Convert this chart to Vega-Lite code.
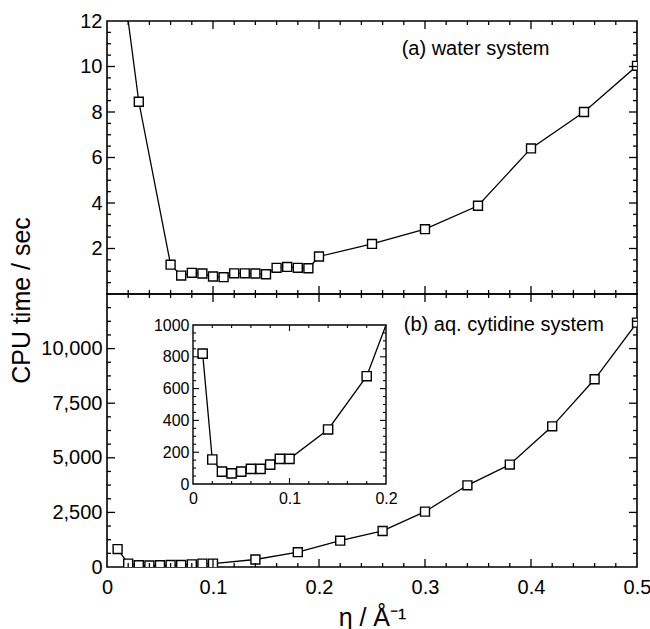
{
  "$schema": "https://vega.github.io/schema/vega-lite/v6.json",
  "padding": {"left": 8, "top": 10, "right": 0, "bottom": 0},
  "spacing": 0,
  "bounds": "flush",
  "datasets": {
    "water": [
      {"eta": 0.02, "t": 100},
      {"eta": 0.03, "t": 8.45},
      {"eta": 0.06, "t": 1.29},
      {"eta": 0.07, "t": 0.81},
      {"eta": 0.08, "t": 0.93},
      {"eta": 0.09, "t": 0.90},
      {"eta": 0.10, "t": 0.77},
      {"eta": 0.11, "t": 0.74},
      {"eta": 0.12, "t": 0.91},
      {"eta": 0.13, "t": 0.91},
      {"eta": 0.14, "t": 0.90},
      {"eta": 0.15, "t": 0.87},
      {"eta": 0.16, "t": 1.15},
      {"eta": 0.17, "t": 1.19},
      {"eta": 0.18, "t": 1.15},
      {"eta": 0.19, "t": 1.13},
      {"eta": 0.20, "t": 1.65},
      {"eta": 0.25, "t": 2.20},
      {"eta": 0.30, "t": 2.85},
      {"eta": 0.35, "t": 3.88},
      {"eta": 0.40, "t": 6.40},
      {"eta": 0.45, "t": 8.0},
      {"eta": 0.50, "t": 10.03}
    ],
    "cyt": [
      {"eta": 0.01, "t": 820},
      {"eta": 0.02, "t": 154},
      {"eta": 0.03, "t": 78},
      {"eta": 0.04, "t": 67},
      {"eta": 0.05, "t": 78},
      {"eta": 0.06, "t": 95},
      {"eta": 0.07, "t": 95},
      {"eta": 0.08, "t": 122},
      {"eta": 0.09, "t": 158},
      {"eta": 0.10, "t": 158},
      {"eta": 0.14, "t": 343},
      {"eta": 0.18, "t": 678},
      {"eta": 0.22, "t": 1205},
      {"eta": 0.26, "t": 1650},
      {"eta": 0.30, "t": 2535},
      {"eta": 0.34, "t": 3740},
      {"eta": 0.38, "t": 4690},
      {"eta": 0.42, "t": 6440},
      {"eta": 0.46, "t": 8595},
      {"eta": 0.50, "t": 11190}
    ],
    "labA": [{"eta": 0.278, "t": 10.78, "label": "(a) water system"}],
    "labB": [{"eta": 0.28, "t": 11070, "label": "(b) aq. cytidine system"}],
    "one": [{"k": 1}],
    "x5maj": [{"eta": 0.1}, {"eta": 0.2}, {"eta": 0.3}, {"eta": 0.4}],
    "x5min": [{"eta": 0.02}, {"eta": 0.04}, {"eta": 0.06}, {"eta": 0.08}, {"eta": 0.12}, {"eta": 0.14}, {"eta": 0.16}, {"eta": 0.18}, {"eta": 0.22}, {"eta": 0.24}, {"eta": 0.26}, {"eta": 0.28}, {"eta": 0.32}, {"eta": 0.34}, {"eta": 0.36}, {"eta": 0.38}, {"eta": 0.42}, {"eta": 0.44}, {"eta": 0.46}, {"eta": 0.48}],
    "y12maj": [{"t": 2}, {"t": 4}, {"t": 6}, {"t": 8}, {"t": 10}],
    "y12min": [{"t": 0.5}, {"t": 1}, {"t": 1.5}, {"t": 2.5}, {"t": 3}, {"t": 3.5}, {"t": 4.5}, {"t": 5}, {"t": 5.5}, {"t": 6.5}, {"t": 7}, {"t": 7.5}, {"t": 8.5}, {"t": 9}, {"t": 9.5}, {"t": 10.5}, {"t": 11}, {"t": 11.5}],
    "y125maj": [{"t": 2500}, {"t": 5000}, {"t": 7500}, {"t": 10000}],
    "y125min": [{"t": 625}, {"t": 1250}, {"t": 1875}, {"t": 3125}, {"t": 3750}, {"t": 4375}, {"t": 5625}, {"t": 6250}, {"t": 6875}, {"t": 8125}, {"t": 8750}, {"t": 9375}, {"t": 10625}, {"t": 11250}, {"t": 11875}],
    "x2maj": [{"eta": 0.1}],
    "x2min": [{"eta": 0.02}, {"eta": 0.04}, {"eta": 0.06}, {"eta": 0.08}, {"eta": 0.12}, {"eta": 0.14}, {"eta": 0.16}, {"eta": 0.18}],
    "y1000maj": [{"t": 200}, {"t": 400}, {"t": 600}, {"t": 800}],
    "y1000min": [{"t": 50}, {"t": 100}, {"t": 150}, {"t": 250}, {"t": 300}, {"t": 350}, {"t": 450}, {"t": 500}, {"t": 550}, {"t": 650}, {"t": 700}, {"t": 750}, {"t": 850}, {"t": 900}, {"t": 950}]
  },
  "vconcat": [
    {
      "width": 530,
      "height": 273,
      "resolve": {"axis": {"x": "independent", "y": "independent"}},
      "layer": [
        {
          "data": {"name": "water"},
          "mark": {"type": "line", "color": "black", "strokeWidth": 1.3, "clip": true},
          "encoding": {
            "x": {"field": "eta", "type": "quantitative", "scale": {"domain": [0, 0.5], "nice": false}, "axis": null},
            "y": {"field": "t", "type": "quantitative", "scale": {"domain": [0, 12], "nice": false, "clamp": true},
              "axis": {"orient": "left", "offset": 0, "values": [2, 4, 6, 8, 10, 12], "ticks": false, "labelPadding": 5, "format": "~g", "title": null}}
          }
        },
        {
          "data": {"name": "water"},
          "transform": [{"filter": "datum.t <= 12"}],
          "mark": {"type": "point", "shape": "square", "size": 80, "filled": true, "fill": "white", "stroke": "black", "strokeWidth": 1.4, "opacity": 1, "clip": true},
          "encoding": {
            "x": {"field": "eta", "type": "quantitative", "scale": {"domain": [0, 0.5], "nice": false}, "axis": null},
            "y": {"field": "t", "type": "quantitative", "scale": {"domain": [0, 12], "nice": false, "clamp": true}, "axis": null}
          }
        },
        {
          "data": {"name": "labA"},
          "mark": {"type": "text", "align": "left", "baseline": "middle", "fontSize": 20, "font": "Liberation Sans", "color": "black"},
          "encoding": {
            "x": {"field": "eta", "type": "quantitative", "scale": {"domain": [0, 0.5], "nice": false}, "axis": null},
            "y": {"field": "t", "type": "quantitative", "scale": {"domain": [0, 12], "nice": false, "clamp": true}, "axis": null},
            "text": {"field": "label"}
          }
        },
        {
          "data": {"name": "x5maj"},
          "mark": {"type": "tick", "orient": "vertical", "size": 16, "thickness": 1.3, "color": "black", "opacity": 1, "clip": true},
          "encoding": {
            "x": {"field": "eta", "type": "quantitative", "scale": {"domain": [0, 0.5], "nice": false}, "axis": null},
            "y": {"datum": 0, "type": "quantitative", "scale": {"domain": [0, 12], "nice": false, "clamp": true}, "axis": null}
          }
        },
        {
          "data": {"name": "x5maj"},
          "mark": {"type": "tick", "orient": "vertical", "size": 16, "thickness": 1.3, "color": "black", "opacity": 1, "clip": true},
          "encoding": {
            "x": {"field": "eta", "type": "quantitative", "scale": {"domain": [0, 0.5], "nice": false}, "axis": null},
            "y": {"datum": 12, "type": "quantitative", "scale": {"domain": [0, 12], "nice": false, "clamp": true}, "axis": null}
          }
        },
        {
          "data": {"name": "x5min"},
          "mark": {"type": "tick", "orient": "vertical", "size": 8, "thickness": 1.3, "color": "black", "opacity": 1, "clip": true},
          "encoding": {
            "x": {"field": "eta", "type": "quantitative", "scale": {"domain": [0, 0.5], "nice": false}, "axis": null},
            "y": {"datum": 0, "type": "quantitative", "scale": {"domain": [0, 12], "nice": false, "clamp": true}, "axis": null}
          }
        },
        {
          "data": {"name": "x5min"},
          "mark": {"type": "tick", "orient": "vertical", "size": 8, "thickness": 1.3, "color": "black", "opacity": 1, "clip": true},
          "encoding": {
            "x": {"field": "eta", "type": "quantitative", "scale": {"domain": [0, 0.5], "nice": false}, "axis": null},
            "y": {"datum": 12, "type": "quantitative", "scale": {"domain": [0, 12], "nice": false, "clamp": true}, "axis": null}
          }
        },
        {
          "data": {"name": "y12maj"},
          "mark": {"type": "tick", "orient": "horizontal", "size": 16, "thickness": 1.3, "color": "black", "opacity": 1, "clip": true},
          "encoding": {
            "x": {"datum": 0, "type": "quantitative", "scale": {"domain": [0, 0.5], "nice": false}, "axis": null},
            "y": {"field": "t", "type": "quantitative", "scale": {"domain": [0, 12], "nice": false, "clamp": true}, "axis": null}
          }
        },
        {
          "data": {"name": "y12maj"},
          "mark": {"type": "tick", "orient": "horizontal", "size": 16, "thickness": 1.3, "color": "black", "opacity": 1, "clip": true},
          "encoding": {
            "x": {"datum": 0.5, "type": "quantitative", "scale": {"domain": [0, 0.5], "nice": false}, "axis": null},
            "y": {"field": "t", "type": "quantitative", "scale": {"domain": [0, 12], "nice": false, "clamp": true}, "axis": null}
          }
        },
        {
          "data": {"name": "y12min"},
          "mark": {"type": "tick", "orient": "horizontal", "size": 8, "thickness": 1.3, "color": "black", "opacity": 1, "clip": true},
          "encoding": {
            "x": {"datum": 0, "type": "quantitative", "scale": {"domain": [0, 0.5], "nice": false}, "axis": null},
            "y": {"field": "t", "type": "quantitative", "scale": {"domain": [0, 12], "nice": false, "clamp": true}, "axis": null}
          }
        },
        {
          "data": {"name": "y12min"},
          "mark": {"type": "tick", "orient": "horizontal", "size": 8, "thickness": 1.3, "color": "black", "opacity": 1, "clip": true},
          "encoding": {
            "x": {"datum": 0.5, "type": "quantitative", "scale": {"domain": [0, 0.5], "nice": false}, "axis": null},
            "y": {"field": "t", "type": "quantitative", "scale": {"domain": [0, 12], "nice": false, "clamp": true}, "axis": null}
          }
        }
      ]
    },
    {
      "width": 530,
      "height": 273,
      "resolve": {"scale": {"x": "independent", "y": "independent"}, "axis": {"x": "independent", "y": "independent"}},
      "layer": [
        {
          "resolve": {"axis": {"x": "independent", "y": "independent"}},
          "layer": [
            {
              "data": {"name": "cyt"},
              "mark": {"type": "line", "color": "black", "strokeWidth": 1.3, "clip": true},
              "encoding": {
                "x": {"field": "eta", "type": "quantitative", "scale": {"domain": [0, 0.5], "nice": false},
                  "axis": {"orient": "bottom", "offset": 0, "values": [0, 0.1, 0.2, 0.3, 0.4, 0.5], "format": "~g", "ticks": false, "labelPadding": 10, "title": "η / Å⁻¹", "titlePadding": 8}},
                "y": {"field": "t", "type": "quantitative", "scale": {"domain": [0, 12500], "nice": false},
                  "axis": {"orient": "left", "offset": 0, "values": [0, 2500, 5000, 7500, 10000], "format": ",.0f", "ticks": false, "labelPadding": 5, "title": "CPU time / sec", "titleX": -86, "titleY": 6, "titleAngle": -90, "titleAlign": "center", "titleBaseline": "middle"}}
              }
            },
            {
              "data": {"name": "cyt"},
              "mark": {"type": "point", "shape": "square", "size": 80, "filled": true, "fill": "white", "stroke": "black", "strokeWidth": 1.4, "opacity": 1, "clip": true},
              "encoding": {
                "x": {"field": "eta", "type": "quantitative", "scale": {"domain": [0, 0.5], "nice": false}, "axis": null},
                "y": {"field": "t", "type": "quantitative", "scale": {"domain": [0, 12500], "nice": false}, "axis": null}
              }
            },
            {
              "data": {"name": "labB"},
              "mark": {"type": "text", "align": "left", "baseline": "middle", "fontSize": 20, "font": "Liberation Sans", "color": "black"},
              "encoding": {
                "x": {"field": "eta", "type": "quantitative", "scale": {"domain": [0, 0.5], "nice": false}, "axis": null},
                "y": {"field": "t", "type": "quantitative", "scale": {"domain": [0, 12500], "nice": false}, "axis": null},
                "text": {"field": "label"}
              }
            },
            {
              "data": {"name": "x5maj"},
              "mark": {"type": "tick", "orient": "vertical", "size": 16, "thickness": 1.3, "color": "black", "opacity": 1, "clip": true},
              "encoding": {
                "x": {"field": "eta", "type": "quantitative", "scale": {"domain": [0, 0.5], "nice": false}, "axis": null},
                "y": {"datum": 0, "type": "quantitative", "scale": {"domain": [0, 12500], "nice": false}, "axis": null}
              }
            },
            {
              "data": {"name": "x5maj"},
              "mark": {"type": "tick", "orient": "vertical", "size": 16, "thickness": 1.3, "color": "black", "opacity": 1, "clip": true},
              "encoding": {
                "x": {"field": "eta", "type": "quantitative", "scale": {"domain": [0, 0.5], "nice": false}, "axis": null},
                "y": {"datum": 12500, "type": "quantitative", "scale": {"domain": [0, 12500], "nice": false}, "axis": null}
              }
            },
            {
              "data": {"name": "x5min"},
              "mark": {"type": "tick", "orient": "vertical", "size": 8, "thickness": 1.3, "color": "black", "opacity": 1, "clip": true},
              "encoding": {
                "x": {"field": "eta", "type": "quantitative", "scale": {"domain": [0, 0.5], "nice": false}, "axis": null},
                "y": {"datum": 0, "type": "quantitative", "scale": {"domain": [0, 12500], "nice": false}, "axis": null}
              }
            },
            {
              "data": {"name": "x5min"},
              "mark": {"type": "tick", "orient": "vertical", "size": 8, "thickness": 1.3, "color": "black", "opacity": 1, "clip": true},
              "encoding": {
                "x": {"field": "eta", "type": "quantitative", "scale": {"domain": [0, 0.5], "nice": false}, "axis": null},
                "y": {"datum": 12500, "type": "quantitative", "scale": {"domain": [0, 12500], "nice": false}, "axis": null}
              }
            },
            {
              "data": {"name": "y125maj"},
              "mark": {"type": "tick", "orient": "horizontal", "size": 16, "thickness": 1.3, "color": "black", "opacity": 1, "clip": true},
              "encoding": {
                "x": {"datum": 0, "type": "quantitative", "scale": {"domain": [0, 0.5], "nice": false}, "axis": null},
                "y": {"field": "t", "type": "quantitative", "scale": {"domain": [0, 12500], "nice": false}, "axis": null}
              }
            },
            {
              "data": {"name": "y125maj"},
              "mark": {"type": "tick", "orient": "horizontal", "size": 16, "thickness": 1.3, "color": "black", "opacity": 1, "clip": true},
              "encoding": {
                "x": {"datum": 0.5, "type": "quantitative", "scale": {"domain": [0, 0.5], "nice": false}, "axis": null},
                "y": {"field": "t", "type": "quantitative", "scale": {"domain": [0, 12500], "nice": false}, "axis": null}
              }
            },
            {
              "data": {"name": "y125min"},
              "mark": {"type": "tick", "orient": "horizontal", "size": 8, "thickness": 1.3, "color": "black", "opacity": 1, "clip": true},
              "encoding": {
                "x": {"datum": 0, "type": "quantitative", "scale": {"domain": [0, 0.5], "nice": false}, "axis": null},
                "y": {"field": "t", "type": "quantitative", "scale": {"domain": [0, 12500], "nice": false}, "axis": null}
              }
            },
            {
              "data": {"name": "y125min"},
              "mark": {"type": "tick", "orient": "horizontal", "size": 8, "thickness": 1.3, "color": "black", "opacity": 1, "clip": true},
              "encoding": {
                "x": {"datum": 0.5, "type": "quantitative", "scale": {"domain": [0, 0.5], "nice": false}, "axis": null},
                "y": {"field": "t", "type": "quantitative", "scale": {"domain": [0, 12500], "nice": false}, "axis": null}
              }
            }
          ]
        },
        {
          "resolve": {"axis": {"x": "independent", "y": "independent"}},
          "layer": [
            {
              "data": {"name": "one"},
              "mark": {"type": "rect", "fill": "white", "stroke": "black", "strokeWidth": 1.4},
              "encoding": {
                "x": {"datum": 0, "type": "quantitative", "scale": {"domain": [0, 0.2], "range": [86, 279], "nice": false, "clamp": true}, "axis": null},
                "x2": {"datum": 0.2},
                "y": {"datum": 0, "type": "quantitative", "scale": {"domain": [0, 1000], "range": [190, 31], "nice": false, "clamp": true}, "axis": null},
                "y2": {"datum": 1000}
              }
            },
            {
              "data": {"name": "cyt"},
              "mark": {"type": "line", "color": "black", "strokeWidth": 1.3},
              "encoding": {
                "x": {"field": "eta", "type": "quantitative", "scale": {"domain": [0, 0.2], "range": [86, 279], "nice": false, "clamp": true},
                  "axis": {"orient": "bottom", "offset": -83, "values": [0, 0.1, 0.2], "format": "~g", "ticks": false, "labelPadding": 6, "labelFontSize": 16, "title": null}},
                "y": {"field": "t", "type": "quantitative", "scale": {"domain": [0, 1000], "range": [190, 31], "nice": false, "clamp": true},
                  "axis": {"orient": "left", "offset": -86, "values": [0, 200, 400, 600, 800, 1000], "format": "d", "ticks": false, "labelPadding": 4, "labelFontSize": 16, "title": null}}
              }
            },
            {
              "data": {"name": "cyt"},
              "transform": [{"filter": "datum.eta <= 0.2"}],
              "mark": {"type": "point", "shape": "square", "size": 85, "filled": true, "fill": "white", "stroke": "black", "strokeWidth": 1.4, "opacity": 1},
              "encoding": {
                "x": {"field": "eta", "type": "quantitative", "scale": {"domain": [0, 0.2], "range": [86, 279], "nice": false, "clamp": true}, "axis": null},
                "y": {"field": "t", "type": "quantitative", "scale": {"domain": [0, 1000], "range": [190, 31], "nice": false, "clamp": true}, "axis": null}
              }
            },
            {
              "data": {"name": "x2maj"},
              "mark": {"type": "tick", "orient": "vertical", "size": 6, "yOffset": -3, "thickness": 1.1, "color": "black", "opacity": 1},
              "encoding": {
                "x": {"field": "eta", "type": "quantitative", "scale": {"domain": [0, 0.2], "range": [86, 279], "nice": false, "clamp": true}, "axis": null},
                "y": {"datum": 0, "type": "quantitative", "scale": {"domain": [0, 1000], "range": [190, 31], "nice": false, "clamp": true}, "axis": null}
              }
            },
            {
              "data": {"name": "x2maj"},
              "mark": {"type": "tick", "orient": "vertical", "size": 6, "yOffset": 3, "thickness": 1.1, "color": "black", "opacity": 1},
              "encoding": {
                "x": {"field": "eta", "type": "quantitative", "scale": {"domain": [0, 0.2], "range": [86, 279], "nice": false, "clamp": true}, "axis": null},
                "y": {"datum": 1000, "type": "quantitative", "scale": {"domain": [0, 1000], "range": [190, 31], "nice": false, "clamp": true}, "axis": null}
              }
            },
            {
              "data": {"name": "x2min"},
              "mark": {"type": "tick", "orient": "vertical", "size": 3, "yOffset": -1.5, "thickness": 1.1, "color": "black", "opacity": 1},
              "encoding": {
                "x": {"field": "eta", "type": "quantitative", "scale": {"domain": [0, 0.2], "range": [86, 279], "nice": false, "clamp": true}, "axis": null},
                "y": {"datum": 0, "type": "quantitative", "scale": {"domain": [0, 1000], "range": [190, 31], "nice": false, "clamp": true}, "axis": null}
              }
            },
            {
              "data": {"name": "x2min"},
              "mark": {"type": "tick", "orient": "vertical", "size": 3, "yOffset": 1.5, "thickness": 1.1, "color": "black", "opacity": 1},
              "encoding": {
                "x": {"field": "eta", "type": "quantitative", "scale": {"domain": [0, 0.2], "range": [86, 279], "nice": false, "clamp": true}, "axis": null},
                "y": {"datum": 1000, "type": "quantitative", "scale": {"domain": [0, 1000], "range": [190, 31], "nice": false, "clamp": true}, "axis": null}
              }
            },
            {
              "data": {"name": "y1000maj"},
              "mark": {"type": "tick", "orient": "horizontal", "size": 6, "xOffset": 3, "thickness": 1.1, "color": "black", "opacity": 1},
              "encoding": {
                "x": {"datum": 0, "type": "quantitative", "scale": {"domain": [0, 0.2], "range": [86, 279], "nice": false, "clamp": true}, "axis": null},
                "y": {"field": "t", "type": "quantitative", "scale": {"domain": [0, 1000], "range": [190, 31], "nice": false, "clamp": true}, "axis": null}
              }
            },
            {
              "data": {"name": "y1000maj"},
              "mark": {"type": "tick", "orient": "horizontal", "size": 6, "xOffset": -3, "thickness": 1.1, "color": "black", "opacity": 1},
              "encoding": {
                "x": {"datum": 0.2, "type": "quantitative", "scale": {"domain": [0, 0.2], "range": [86, 279], "nice": false, "clamp": true}, "axis": null},
                "y": {"field": "t", "type": "quantitative", "scale": {"domain": [0, 1000], "range": [190, 31], "nice": false, "clamp": true}, "axis": null}
              }
            },
            {
              "data": {"name": "y1000min"},
              "mark": {"type": "tick", "orient": "horizontal", "size": 3, "xOffset": 1.5, "thickness": 1.1, "color": "black", "opacity": 1},
              "encoding": {
                "x": {"datum": 0, "type": "quantitative", "scale": {"domain": [0, 0.2], "range": [86, 279], "nice": false, "clamp": true}, "axis": null},
                "y": {"field": "t", "type": "quantitative", "scale": {"domain": [0, 1000], "range": [190, 31], "nice": false, "clamp": true}, "axis": null}
              }
            },
            {
              "data": {"name": "y1000min"},
              "mark": {"type": "tick", "orient": "horizontal", "size": 3, "xOffset": -1.5, "thickness": 1.1, "color": "black", "opacity": 1},
              "encoding": {
                "x": {"datum": 0.2, "type": "quantitative", "scale": {"domain": [0, 0.2], "range": [86, 279], "nice": false, "clamp": true}, "axis": null},
                "y": {"field": "t", "type": "quantitative", "scale": {"domain": [0, 1000], "range": [190, 31], "nice": false, "clamp": true}, "axis": null}
              }
            }
          ]
        }
      ]
    }
  ],
  "config": {
    "view": {"stroke": "black", "strokeWidth": 1.6},
    "font": "Liberation Sans",
    "axis": {
      "domain": false, "grid": false,
      "labelColor": "black", "labelFont": "Liberation Sans", "labelFontSize": 20,
      "labelFlush": false, "labelOverlap": false, "labelBound": false,
      "titleFont": "Liberation Sans", "titleFontSize": 25, "titleFontWeight": "normal", "titleColor": "black"
    }
  }
}
